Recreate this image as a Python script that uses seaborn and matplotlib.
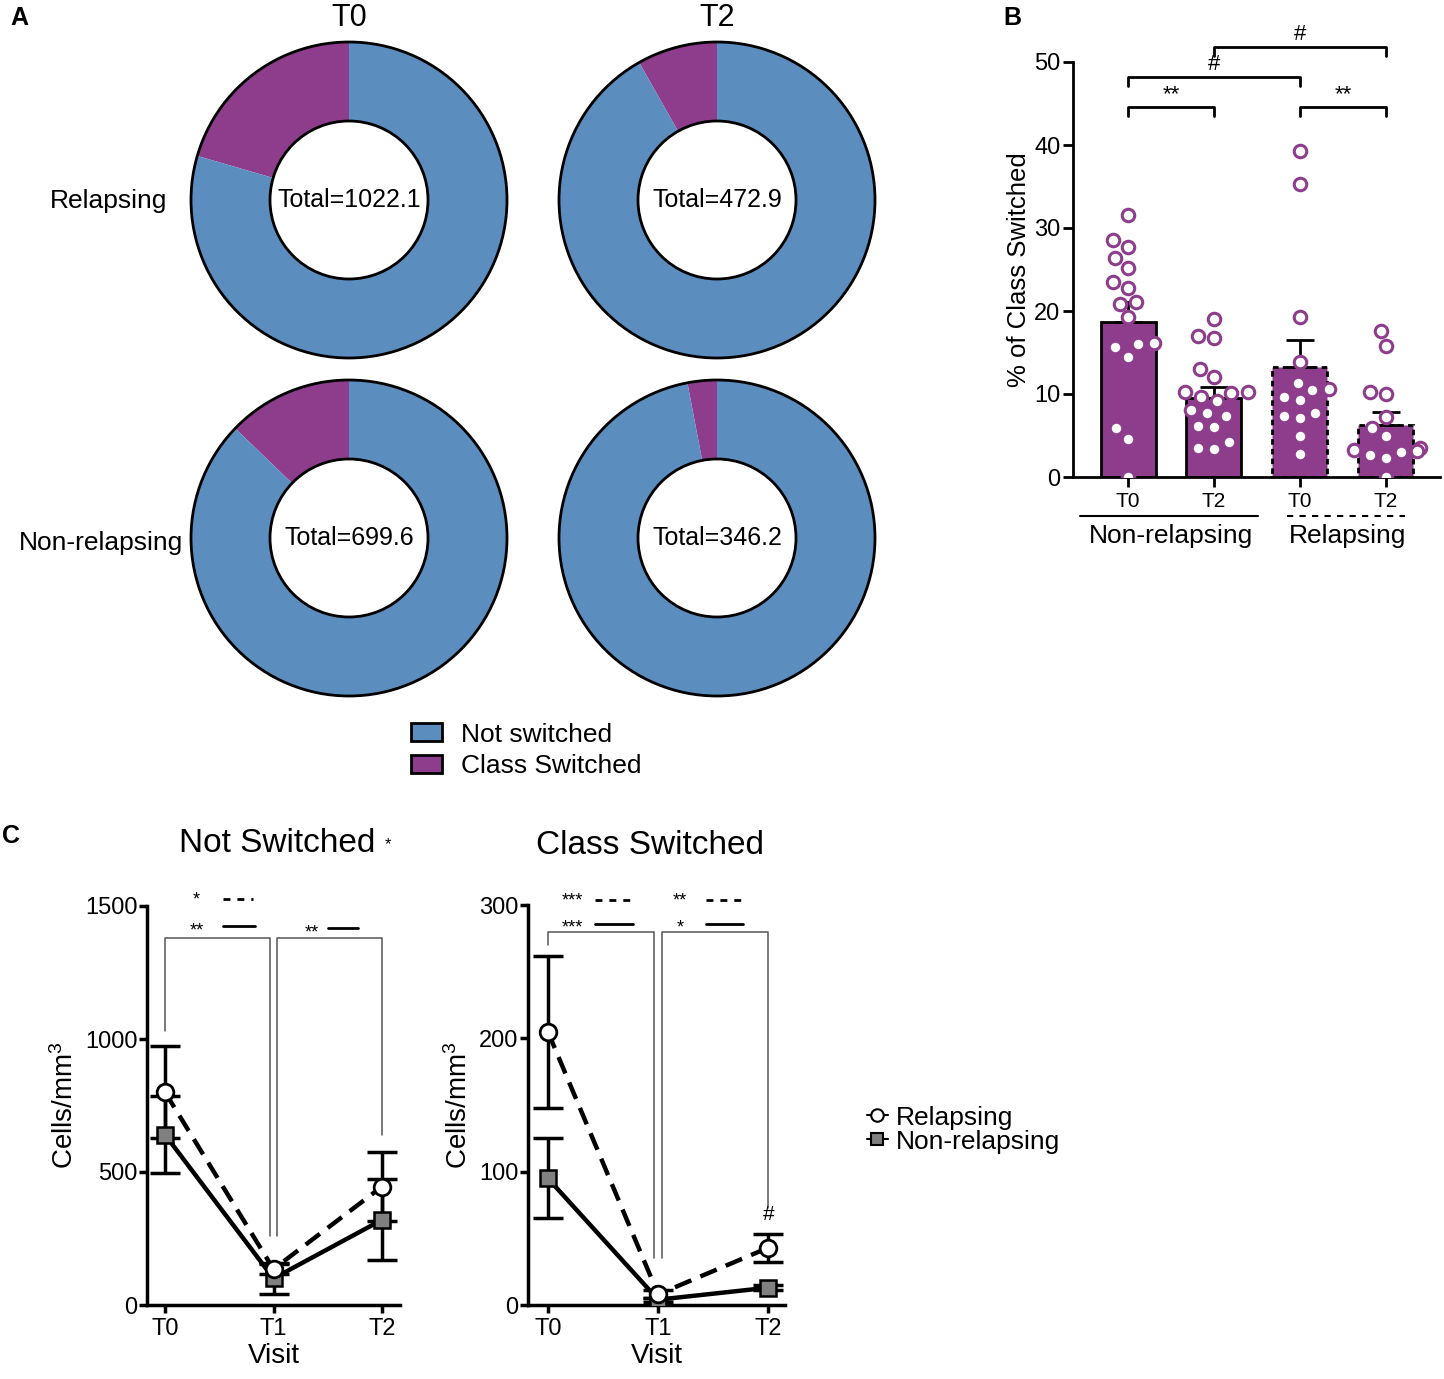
import numpy as np
import pandas as pd
import matplotlib
matplotlib.use("Agg")
import matplotlib.pyplot as plt
from matplotlib.patches import Circle, Patch
from matplotlib.lines import Line2D
import seaborn as sns

# ---------------- data ----------------
donut_rows = ["Relapsing", "Non-relapsing"]
donut_cols = ["T0", "T2"]
# fraction of class switched cells in each donut (rows x cols)
donut_switched = [[0.205, 0.082], [0.128, 0.030]]
donut_totals = [["1022.1", "472.9"], ["699.6", "346.2"]]

bar_groups = ["NR T0", "NR T2", "R T0", "R T2"]
bar_ticklabels = ["T0", "T2", "T0", "T2"]
bar_means = [18.7, 9.5, 13.3, 6.3]
bar_sem = [2.4, 1.3, 3.2, 1.5]
pts_nr_t0 = [31.6, 28.5, 27.7, 26.4, 25.2, 23.5, 22.8, 21.1, 20.9, 19.3,
             16.1, 16.0, 15.7, 14.5, 5.9, 4.6, 0.0]
pts_nr_t2 = [19.0, 17.0, 16.8, 13.0, 12.0, 10.2, 10.2, 10.1, 9.6, 9.2,
             8.1, 7.7, 7.3, 6.2, 6.0, 4.2, 3.5, 3.4]
pts_r_t0 = [39.3, 35.3, 19.3, 13.8, 11.3, 10.6, 10.5, 9.6, 9.3, 7.7,
            7.3, 7.1, 4.9, 2.8]
pts_r_t2 = [17.6, 15.8, 10.2, 10.0, 7.2, 5.9, 4.9, 3.5, 3.3, 3.1,
            3.0, 2.7, 2.3, 0.0]

visits = ["T0", "T1", "T2"]
ns_rel = [800, 135, 445]
ns_rel_sem = [172, 20, 130]
ns_non = [640, 100, 320]
ns_non_sem = [145, 57, 152]
cs_rel = [205, 8, 43]
cs_rel_sem = [57, 3, 10.5]
cs_non = [95, 4, 13]
cs_non_sem = [30, 1.5, 2]

blue = "#5B8DBE"
purple = "#8E3D8C"

# ---------------- figure ----------------
sns.set_style("ticks")
plt.rcParams["font.family"] = ["Liberation Sans", "DejaVu Sans"]
plt.rcParams["mathtext.default"] = "regular"
for key in ["text.color", "axes.labelcolor", "xtick.color", "ytick.color",
            "axes.edgecolor"]:
    plt.rcParams[key] = "black"

W, H = 1444, 1379
fig = plt.figure(figsize=(W / 100, H / 100), dpi=100)


def px_axes(left, top, right, bottom):
    return fig.add_axes([left / W, 1 - bottom / H, (right - left) / W, (bottom - top) / H])


def fig_text(x, y, s, **kw):
    fig.text(x / W, 1 - y / H, s, **kw)


# ---------------- A: donuts ----------------
centers_x = [349, 717]
centers_y = [200, 538]
r_px = 158
lim = 1.05
for i, row in enumerate(donut_rows):
    for j, col in enumerate(donut_cols):
        cx, cy = centers_x[j], centers_y[i]
        half = r_px * lim
        ax = px_axes(cx - half, cy - half, cx + half, cy + half)
        frac = donut_switched[i][j]
        ax.pie([frac, 1 - frac], colors=[purple, blue], startangle=90,
               counterclock=True, radius=1,
               wedgeprops=dict(width=0.5, edgecolor="none", linewidth=0))
        ax.add_patch(Circle((0, 0), 1, fill=False, lw=2, color="black"))
        ax.add_patch(Circle((0, 0), 0.5, fill=False, lw=2, color="black"))
        ax.text(0, 0, "Total=" + donut_totals[i][j], ha="center", va="center",
                fontsize=18)
        ax.set_xlim(-lim, lim)
        ax.set_ylim(-lim, lim)
        ax.set_aspect("equal")
        ax.axis("off")

for j, col in enumerate(donut_cols):
    fig_text(centers_x[j], 18, col, ha="center", va="center", fontsize=22)
fig_text(50, 201, donut_rows[0], ha="left", va="center", fontsize=19)
fig_text(19, 543, donut_rows[1], ha="left", va="center", fontsize=19)

fig.legend(handles=[Patch(facecolor=blue, edgecolor="black", lw=2, label="Not switched"),
                    Patch(facecolor=purple, edgecolor="black", lw=2, label="Class Switched")],
           loc="upper left", bbox_to_anchor=(400 / W, 1 - 712 / H), frameon=False,
           fontsize=19, handlelength=1.2, handleheight=0.65, labelspacing=0.3,
           handletextpad=0.7, borderaxespad=0)

# ---------------- B: bar + points ----------------
axb = px_axes(1073, 62, 1440, 477)
bar_df = pd.DataFrame({"group": bar_groups, "value": bar_means})
pts_df = pd.DataFrame({
    "group": (["NR T0"] * len(pts_nr_t0) + ["NR T2"] * len(pts_nr_t2)
              + ["R T0"] * len(pts_r_t0) + ["R T2"] * len(pts_r_t2)),
    "value": pts_nr_t0 + pts_nr_t2 + pts_r_t0 + pts_r_t2,
})
sns.barplot(data=bar_df, x="group", y="value", order=bar_groups, color=purple,
            width=0.64, edgecolor="black", linewidth=2, ax=axb, errorbar=None,
            saturation=1)
for k, p in enumerate(axb.patches):
    if k >= 2:
        p.set_linestyle((0, (2, 1.5)))
axb.errorbar(range(4), bar_means, yerr=[np.zeros(4), bar_sem], fmt="none",
             ecolor="black", elinewidth=2, capsize=10, capthick=2, zorder=3)
sns.swarmplot(data=pts_df, x="group", y="value", order=bar_groups, color="white",
              edgecolor=purple, linewidth=2.2, size=9, ax=axb, zorder=4)
axb.set_xlim(-0.64, 3.63)
axb.set_ylim(0, 50)
axb.set_yticks([0, 10, 20, 30, 40, 50])
axb.set_xticks(range(4))
axb.set_xticklabels(bar_ticklabels)
axb.set_xlabel("")
axb.set_ylabel("% of Class Switched", fontsize=18.5, labelpad=2)
axb.tick_params(axis="both", length=7, width=2, color="black")
axb.tick_params(axis="y", labelsize=17, pad=2)
axb.tick_params(axis="x", labelsize=15, pad=4)
sns.despine(ax=axb)
for s in ["left", "bottom"]:
    axb.spines[s].set_linewidth(2)


def bar_bracket(ax, x1, x2, y, label, drop=1.1):
    ax.plot([x1, x1, x2, x2], [y - drop, y, y, y - drop], color="black", lw=2,
            clip_on=False)
    ax.text((x1 + x2) / 2, y + 0.2, label, ha="center", va="bottom", fontsize=16)


bar_bracket(axb, 0, 1, 44.6, "**")
bar_bracket(axb, 2, 3, 44.6, "**")
bar_bracket(axb, 0, 2, 48.2, "#")
bar_bracket(axb, 1, 3, 51.8, "#")

tr = axb.get_xaxis_transform()
axb.plot([-0.56, 1.51], [-0.094, -0.094], color="black", lw=1.5, transform=tr,
         clip_on=False)
axb.plot([1.85, 3.22], [-0.094, -0.094], color="black", lw=1.5, ls=(0, (3, 3)),
         transform=tr, clip_on=False)
axb.text(0.5, -0.143, "Non-relapsing", ha="center", va="center", fontsize=19,
         transform=tr)
axb.text(2.55, -0.143, "Relapsing", ha="center", va="center", fontsize=19,
         transform=tr)

# ---------------- C: line plots ----------------
def line_panel(ax, rel, rel_sem, non, non_sem):
    xs = np.arange(len(visits))
    ax.errorbar(xs, rel, yerr=rel_sem, fmt="none", ecolor="black", elinewidth=2.5,
                capsize=11, capthick=2.5, zorder=2)
    ax.errorbar(xs, non, yerr=non_sem, fmt="none", ecolor="black", elinewidth=2.5,
                capsize=11, capthick=2.5, zorder=2)
    sns.lineplot(x=xs, y=non, ax=ax, color="black", lw=3.2, marker="s",
                 markersize=12, markerfacecolor="#808080", markeredgecolor="black",
                 markeredgewidth=1.8, zorder=3)
    sns.lineplot(x=xs, y=rel, ax=ax, color="black", lw=3.2, marker="o",
                 markersize=12, markerfacecolor="white", markeredgecolor="black",
                 markeredgewidth=2, zorder=4)
    ax.lines[-1].set_linestyle((0, (4, 2.2)))
    ax.set_xticks(xs)
    ax.set_xticklabels(visits)
    ax.set_xlabel("Visit", fontsize=20, labelpad=2)
    ax.set_ylabel("Cells/mm$^3$", fontsize=20, labelpad=4)
    ax.tick_params(axis="both", length=6, width=2.5, labelsize=17, color="black")
    ax.tick_params(axis="y", pad=1)
    sns.despine(ax=ax)
    for s in ["left", "bottom"]:
        ax.spines[s].set_linewidth(2.5)


def thin(ax, xs, ys):
    ax.plot(xs, ys, color="#555555", lw=1.1, clip_on=False, zorder=1)


axc1 = px_axes(147, 906, 400, 1305)
line_panel(axc1, ns_rel, ns_rel_sem, ns_non, ns_non_sem)
axc1.set_xlim(-0.166, 2.166)
axc1.set_ylim(0, 1500)
axc1.set_yticks([0, 500, 1000, 1500])
thin(axc1, [0, 0, 0.97, 0.97], [1030, 1380, 1380, 260])
thin(axc1, [1.03, 1.03, 2, 2], [260, 1380, 1380, 640])
axc1.text(0.29, 1522, "*", ha="center", va="center", fontsize=13, clip_on=False)
axc1.plot([0.53, 0.81], [1525, 1525], color="black", lw=2, ls=(0, (2.5, 2.5)),
          clip_on=False)
axc1.text(0.29, 1405, "**", ha="center", va="center", fontsize=13, clip_on=False)
axc1.plot([0.53, 0.83], [1425, 1425], color="black", lw=2, clip_on=False)
axc1.text(1.35, 1400, "**", ha="center", va="center", fontsize=13, clip_on=False)
axc1.plot([1.5, 1.78], [1418, 1418], color="black", lw=2, clip_on=False)

axc2 = px_axes(528, 905, 785, 1305)
line_panel(axc2, cs_rel, cs_rel_sem, cs_non, cs_non_sem)
axc2.set_xlim(-0.18, 2.15)
axc2.set_ylim(0, 300)
axc2.set_yticks([0, 100, 200, 300])
thin(axc2, [0, 0, 0.965, 0.965], [270, 280, 280, 35])
thin(axc2, [1.035, 1.035, 2, 2], [35, 280, 280, 73])
axc2.text(0.22, 303, "***", ha="center", va="center", fontsize=13, clip_on=False)
axc2.plot([0.43, 0.77], [304, 304], color="black", lw=2, ls=(0, (2.5, 2.5)),
          clip_on=False)
axc2.text(0.22, 283, "***", ha="center", va="center", fontsize=13, clip_on=False)
axc2.plot([0.43, 0.77], [286, 286], color="black", lw=2, clip_on=False)
axc2.text(1.2, 303, "**", ha="center", va="center", fontsize=13, clip_on=False)
axc2.plot([1.43, 1.77], [304, 304], color="black", lw=2, ls=(0, (2.5, 2.5)),
          clip_on=False)
axc2.text(1.2, 283, "*", ha="center", va="center", fontsize=13, clip_on=False)
axc2.plot([1.43, 1.77], [286, 286], color="black", lw=2, clip_on=False)
axc2.text(2, 61, "#", ha="center", va="bottom", fontsize=15)

fig_text(277, 843, "Not Switched", ha="center", va="center", fontsize=24)
fig_text(388, 845, "*", ha="center", va="center", fontsize=12)
fig_text(650, 845, "Class Switched", ha="center", va="center", fontsize=24)

fig.legend(handles=[Line2D([], [], color="black", lw=1.5, marker="o", mfc="white",
                           mec="black", ms=9, mew=1.5, label="Relapsing"),
                    Line2D([], [], color="black", lw=1.5, marker="s", mfc="#808080",
                           mec="black", ms=9, mew=1.5, label="Non-relapsing")],
           loc="upper left", bbox_to_anchor=(856 / W, 1 - 1095 / H), frameon=False,
           fontsize=19, handlelength=0.8, handletextpad=0.3, labelspacing=0.0,
           borderaxespad=0)

# panel letters
fig_text(10, 18, "A", ha="left", va="center", fontsize=18, fontweight="bold")
fig_text(1003, 18, "B", ha="left", va="center", fontsize=18, fontweight="bold")
fig_text(2, 836, "C", ha="left", va="center", fontsize=18, fontweight="bold")

fig.savefig("out.png", dpi=100)
